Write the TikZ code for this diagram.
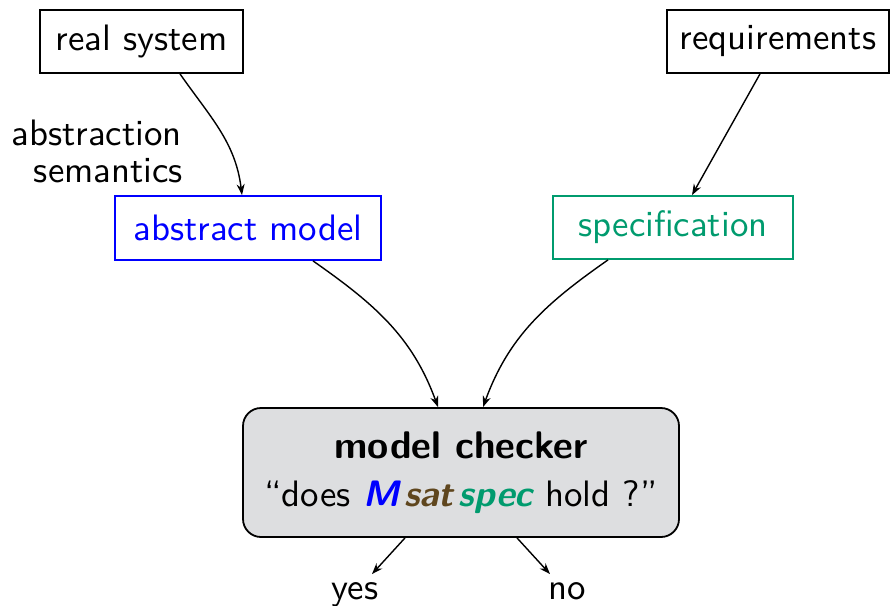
\documentclass[tikz,border=0pt]{standalone}
\usepackage{fontspec}
\setsansfont{lmsans10-regular.otf}[BoldFont=lmsans10-bold.otf, ItalicFont=lmsans10-oblique.otf, BoldItalicFont=lmsans10-boldoblique.otf]
\usetikzlibrary{arrows.meta}
\definecolor{specgreen}{RGB}{0,155,110}
\definecolor{satbrown}{RGB}{95,70,30}
\definecolor{mcgray}{RGB}{221,222,224}
\begin{document}
\begin{tikzpicture}[x=1pt,y=1pt,
  every node/.style={font=\sffamily\fontsize{36.8}{48}\selectfont},
  box/.style={draw, line width=1.8pt, inner sep=0pt, minimum height=63pt},
  arr/.style={-{Stealth[length=11pt,width=8pt]}, line width=1.4pt},
  lbl/.style={inner sep=0pt, anchor=base east},
  result/.style={inner xsep=0pt, inner ysep=7.8pt, anchor=base},
]
\useasboundingbox (0,0) rectangle (890,-605);
\node[box, minimum width=203pt] (rs) at (141.5,-41.5) {real system};
\node[box, minimum width=222pt] (req) at (778,-41.5) {requirements};
\node[box, draw=blue, text=blue, minimum width=266pt, minimum height=64pt] (am) at (248,-228) {abstract model};
\node[box, draw=specgreen, text=specgreen, minimum width=240pt] (spec) at (673,-227.5) {specification};
\node[lbl] (l1) at (182,-145) {abstraction};
\node[lbl] (l2) at (183,-182) {semantics};
\node[box, fill=mcgray, rounded corners=18pt, minimum width=436pt, minimum height=129pt, align=center] (mc) at (461,-472.5)
  {{\fontsize{38.5}{48}\selectfont\bfseries model checker}\\``does \textbf{\textit{\color{blue}M}}\hspace{5pt}\textbf{\textit{\color{satbrown}sat}}\hspace{5pt}\textbf{\textit{\color{specgreen}spec}} hold ?''};
\node[result] (yes) at (355,-599) {yes};
\node[result] (no) at (567,-599) {no};
\draw[arr] ([xshift=38.5pt]rs.south) to[out=-55,in=97] ([xshift=-6pt]am.north);
\draw[arr] ([xshift=-18pt]req.south) -- ([xshift=19pt]spec.north);
\draw[arr] ([xshift=65pt]am.south) to[out=-35,in=110] ([xshift=-23pt]mc.north);
\draw[arr] ([xshift=-65pt]spec.south) to[out=-145,in=70] ([xshift=22pt]mc.north);
\draw[arr] ([xshift=-56pt]mc.south) -- ([xshift=17pt]yes.north);
\draw[arr] ([xshift=56pt]mc.south) -- ([xshift=-17pt]no.north);
\end{tikzpicture}
\end{document}
